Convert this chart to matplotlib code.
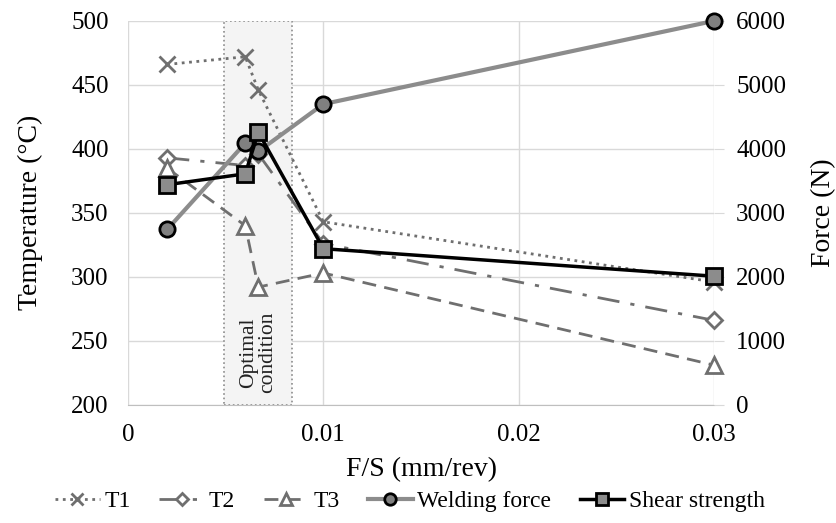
import matplotlib.pyplot as plt
from matplotlib.patches import Rectangle

plt.rcParams['font.family'] = ['Liberation Serif', 'DejaVu Serif']

# F/S values (mm/rev)
fs = [0.002, 0.006, 0.00667, 0.01, 0.03]

# temperatures (°C)
t1 = [466, 472, 446, 343, 296]
t2 = [393, 387, 396, 326, 266]
t3 = [385, 340, 292, 303, 231]

# forces (N)
welding_force = [2740, 4090, 3960, 4700, 6000]
shear_strength = [3440, 3610, 4260, 2440, 2010]

optimal = (0.0049, 0.0084)

fig = plt.figure(figsize=(8.37, 5.23), dpi=100)
ax = fig.add_axes([0.153, 0.226, 0.700, 0.734])
ax2 = ax.twinx()

grid_c = '#d9d9d9'
ax.set_xlim(0, 0.03)
ax.set_ylim(200, 500)
ax2.set_ylim(0, 6000)
ax.set_xticks([0, 0.01, 0.02, 0.03])
ax.set_xticklabels(['0', '0.01', '0.02', '0.03'])
ax.set_yticks(range(200, 501, 50))
ax2.set_yticks(range(0, 6001, 1000))
ax.grid(True, color=grid_c, lw=1)
ax.set_axisbelow(True)
for a in (ax, ax2):
    for s in a.spines.values():
        s.set_visible(False)
ax.spines['bottom'].set_visible(True)
ax.spines['bottom'].set_color('#bfbfbf')
ax.tick_params(axis='y', length=0, labelsize=18, pad=14)
ax.tick_params(axis='x', length=0, labelsize=18, pad=14)
ax2.tick_params(axis='y', length=7, color=grid_c, labelsize=18, pad=9)

ax.add_patch(Rectangle((optimal[0], 200), optimal[1] - optimal[0], 300,
                       facecolor='#f4f4f4', edgecolor='#8c8c8c',
                       linestyle=':', lw=1.2, zorder=1))
ax.text((optimal[0] + optimal[1]) / 2, 209, 'Optimal\ncondition', rotation=90,
        ha='center', va='bottom', fontsize=15.5, color='#222222',
        linespacing=1.0, zorder=2)

l1, = ax.plot(fs, t1, ls=':', color='#6f6f6f', lw=2, marker='x',
              label='T1', zorder=3, markersize=11, markeredgewidth=2,
              clip_on=False)
l2, = ax.plot(fs, t2, ls=(0, (8, 4, 1.5, 4)), color='#6f6f6f', lw=2, marker='D',
              mfc='white', mec='#6f6f6f', label='T2', zorder=3,
              markersize=8, markeredgewidth=2, clip_on=False)
l3, = ax.plot(fs, t3, ls=(0, (5, 3)), color='#6f6f6f', lw=2, marker='^',
              mfc='white', mec='#6f6f6f', label='T3', zorder=3,
              markersize=11, markeredgewidth=2, clip_on=False)
l4, = ax2.plot(fs, welding_force, color='#8c8c8c', lw=3, marker='o',
               mfc='#808080', mec='black', label='Welding force', zorder=4,
               markersize=11, markeredgewidth=2, clip_on=False)
l5, = ax2.plot(fs, shear_strength, color='black', lw=2.5, marker='s',
               mfc='#8c8c8c', mec='black', label='Shear strength', zorder=5,
               markersize=11, markeredgewidth=2, clip_on=False)

ax.set_xlabel('F/S (mm/rev)', fontsize=20, labelpad=8)
ax.set_ylabel('Temperature (°C)', fontsize=20, labelpad=20)
ax2.set_ylabel('Force (N)', fontsize=20, labelpad=18)

fig.legend(handles=[l1, l2, l3, l4, l5], loc='center', ncol=5,
           bbox_to_anchor=(0.49, 0.042), frameon=False, fontsize=17,
           handlelength=1.9, handletextpad=0.2, columnspacing=1.2,
           markerscale=0.75)

fig.savefig('out.png', dpi=100)
